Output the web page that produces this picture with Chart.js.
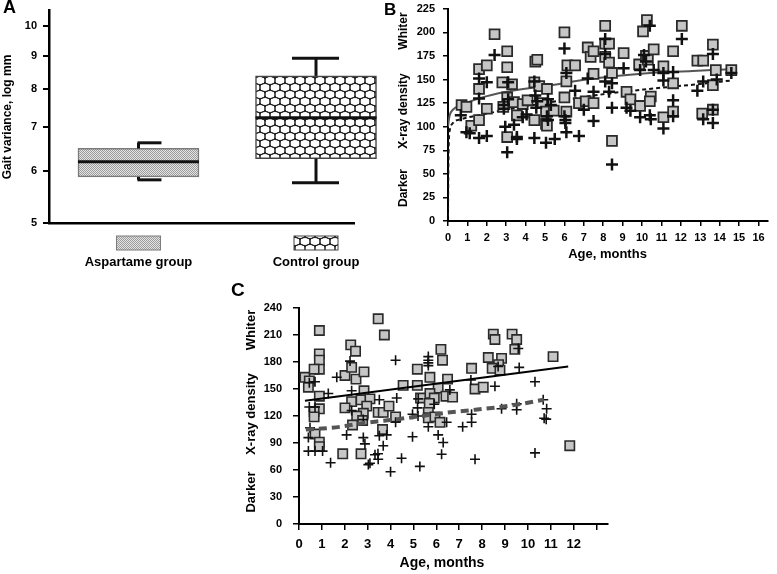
<!DOCTYPE html>
<html>
<head>
<meta charset="utf-8">
<script src="https://cdn.jsdelivr.net/npm/chart.js@4.4.0/dist/chart.umd.min.js"></script>
<style>
  body { margin: 0; background: #fff; }
  #wrap { position: relative; width: 777px; height: 574px; overflow: hidden; background: #fff; }
  canvas { position: absolute; }
</style>
</head>
<body>
<div id="wrap">
  <canvas id="chartA" width="400" height="290" style="left:0;top:0"></canvas>
  <canvas id="chartB" width="397" height="290" style="left:380px;top:0"></canvas>
  <canvas id="chartC" width="420" height="294" style="left:220px;top:280px"></canvas>
</div>
<script>
// ---- Panel A: gait variance, log mm ----
const groups = ['Aspartame group', 'Control group'];
const whiskerLow = [5.82, 5.76];
const boxLow = [5.88, 6.27];
const medians = [6.2, 7.24];
const boxHigh = [6.5, 8.39];
const whiskerHigh = [6.63, 8.93];
const gaitTicks = [5, 6, 7, 8, 9, 10];

// ---- Panel B: x-ray density vs age ----
const bSquares = [
  [0.7, 123], [0.95, 121], [1.2, 101], [1.6, 107], [1.6, 140], [1.6, 161], [2.0, 165], [2.0, 119],
  [2.4, 198], [2.8, 147], [3.05, 180], [3.05, 163], [3.05, 131], [3.05, 89], [3.3, 145], [2.85, 121],
  [3.4, 126], [3.55, 112], [3.85, 124], [4.1, 128], [4.45, 107], [4.5, 169], [4.6, 171], [4.45, 147],
  [4.7, 143], [5.1, 140], [4.85, 125], [5.05, 116], [5.05, 103], [5.1, 101], [5.45, 117], [6.0, 200],
  [6.1, 148], [6.0, 131], [6.1, 116], [6.15, 165], [6.55, 165], [6.75, 125], [7.1, 127], [7.5, 125],
  [7.2, 184], [7.35, 174], [7.5, 180], [7.5, 156], [8.1, 207], [8.1, 188], [8.3, 188], [8.1, 174],
  [8.3, 168], [8.45, 157], [8.45, 85], [9.05, 178], [9.2, 137], [9.4, 129], [9.85, 166], [9.9, 122],
  [10.05, 201], [10.2, 175], [10.3, 171], [10.25, 213], [10.45, 132], [10.4, 127], [10.6, 182],
  [11.1, 164], [11.1, 110], [11.6, 180], [11.6, 146], [11.6, 116], [12.05, 207], [12.85, 170],
  [13.15, 170], [13.1, 114], [13.65, 187], [13.65, 144], [13.65, 118], [13.8, 160], [14.6, 160]
];
const bCrosses = [
  [0.66, 112], [0.95, 94], [1.12, 93], [1.6, 88], [2.0, 90], [1.6, 151], [1.6, 130], [2.0, 147],
  [2.4, 176], [2.95, 100], [3.05, 73], [3.1, 147], [3.1, 129], [2.88, 123], [2.88, 119], [3.4, 102],
  [3.55, 89], [3.55, 87], [3.85, 110], [4.05, 113], [4.45, 88], [4.5, 133], [4.6, 127], [4.55, 120],
  [5.05, 83], [5.5, 87], [5.1, 111], [5.15, 129], [5.3, 123], [5.15, 107], [6.0, 183], [6.1, 157],
  [6.55, 138], [6.0, 111], [6.05, 107], [6.05, 104], [6.1, 94], [6.75, 90], [7.0, 118], [7.5, 106],
  [7.5, 137], [7.2, 151], [8.1, 193], [8.1, 177], [8.1, 148], [8.3, 137], [8.45, 146], [8.45, 120],
  [8.45, 60], [9.05, 162], [9.2, 120], [9.4, 117], [9.9, 110], [9.9, 160], [10.1, 176], [10.4, 207],
  [12.05, 193], [10.2, 169], [10.6, 160], [11.1, 157], [11.1, 149], [11.6, 158], [11.6, 128],
  [11.6, 111], [11.1, 98], [10.4, 112], [10.45, 108], [12.85, 138], [13.15, 148], [13.15, 108],
  [13.65, 177], [13.65, 104], [13.85, 150], [14.6, 157], [13.65, 118], [4.45, 148]
];
const bSolidFit = [[0, 100], [0.05, 108], [0.1, 113], [0.25, 118], [0.7, 123], [1.6, 130], [3, 137],
  [5, 143], [7.5, 151], [10.1, 156.5], [12.6, 159], [14.6, 161]];
const bDashedFit = [[0, 5], [0.02, 60], [0.05, 88], [0.1, 97], [0.26, 104], [0.7, 108], [1.8, 113],
  [3, 118], [5, 125], [7.5, 133], [10.1, 139.5], [12.6, 144.5], [14.6, 149]];
const bXTicks = [0, 1, 2, 3, 4, 5, 6, 7, 8, 9, 10, 11, 12, 13, 14, 15, 16];
const bYTicks = [0, 25, 50, 75, 100, 125, 150, 175, 200, 225];

// ---- Panel C: x-ray density vs age ----
const cSquares = [
  [0.26, 163], [0.45, 159], [0.41, 152], [0.89, 215], [0.89, 189], [0.89, 182], [0.89, 172], [0.66, 172],
  [0.89, 142], [0.89, 128], [0.66, 125], [0.66, 119], [0.7, 100], [0.89, 91], [0.89, 86], [1.91, 78],
  [2.01, 165], [2.26, 199], [2.47, 192], [2.3, 174], [2.49, 161], [2.84, 169], [2.84, 148], [2.3, 136],
  [2.01, 129], [2.71, 138], [3.1, 139], [2.96, 131], [2.81, 123], [2.52, 120], [2.78, 115], [2.34, 110],
  [3.46, 228], [3.73, 210], [3.46, 124], [3.68, 124], [3.93, 131], [3.65, 105], [2.71, 78], [6.2, 194],
  [6.27, 182], [5.17, 172], [7.54, 173], [7.69, 150], [4.55, 154], [5.17, 154], [5.72, 163], [6.49, 161],
  [6.08, 151], [5.72, 145], [5.91, 140], [6.42, 142], [6.71, 141], [5.31, 140], [5.69, 134], [5.65, 124],
  [5.65, 118], [5.94, 119], [6.16, 113], [4.22, 119], [8.49, 211], [8.56, 205], [9.31, 211], [9.51, 205],
  [9.43, 194], [8.27, 185], [8.85, 184], [8.72, 177], [8.44, 173], [8.78, 171], [11.1, 186], [11.83, 87],
  [8.05, 152]
];
const cCrosses = [
  [0.7, 158], [0.45, 157], [1.65, 163], [1.28, 145], [0.45, 130], [0.7, 130], [0.48, 107], [0.41, 96],
  [0.41, 81], [0.7, 81], [1.03, 81], [1.38, 68], [2.23, 181], [2.3, 148], [2.3, 126], [2.08, 99],
  [2.81, 96], [2.88, 89], [3.1, 67.5], [3.03, 66], [3.32, 77], [3.45, 78], [3.46, 72], [3.51, 138],
  [3.51, 98], [2.81, 116], [3.68, 87], [3.83, 99], [4.0, 58], [4.22, 182], [5.65, 186], [5.65, 182],
  [5.65, 179], [5.65, 176], [4.27, 140], [6.59, 149], [7.51, 160], [5.21, 139], [5.18, 129], [5.91, 133],
  [4.96, 122], [5.2, 120], [4.22, 113], [4.96, 97], [5.65, 108], [6.08, 99], [6.3, 90.5], [6.23, 77.5],
  [4.48, 73], [5.28, 64], [6.45, 113], [7.15, 108], [7.54, 113], [7.54, 122], [7.69, 72], [9.58, 195],
  [9.62, 174], [8.56, 153], [10.31, 158], [8.85, 128], [9.51, 133.5], [9.51, 127], [10.82, 128],
  [10.67, 138], [10.71, 117.5], [10.8, 116.5], [10.31, 79], [8.7, 175]
];
const cSolidFit = [[0.26, 137], [11.76, 175]];
const cDashedFit = [[0.3, 105], [1.0, 106], [1.8, 108], [2.5, 111], [3.4, 114], [4.0, 115.5],
  [5.2, 119.5], [6.4, 123.5], [7.7, 127], [9.1, 131], [10.7, 138]];
const cXTicks = [0, 1, 2, 3, 4, 5, 6, 7, 8, 9, 10, 11, 12, 13];
const cXLabels = ['0', '1', '2', '3', '4', '5', '6', '7', '8', '9', '10', '11', '12', ''];
const cYTicks = [0, 30, 60, 90, 120, 150, 180, 210, 240];

const FONT = '"Liberation Sans", Arial, sans-serif';
Chart.defaults.font.family = FONT;
Chart.defaults.font.weight = 'bold';
Chart.defaults.color = '#000';

const pts = arr => arr.map(([x, y]) => ({ x, y }));

// force the scale box size so the plot area lands where it should
function fixSize(s, size) {
  if (s.isHorizontal()) s.height = size; else s.width = size;
  s.paddingTop = s.paddingBottom = s.paddingLeft = s.paddingRight = 0;
}

function labelsPlugin(items) {
  return {
    id: 'panelLabels',
    afterDraw(chart) {
      const ctx = chart.ctx;
      items.forEach(t => {
        ctx.save();
        ctx.font = 'bold ' + t.size + 'px ' + FONT;
        ctx.fillStyle = '#000';
        ctx.translate(t.x, t.y);
        if (t.rotate) ctx.rotate(-Math.PI / 2);
        ctx.textAlign = t.align || 'center';
        ctx.textBaseline = t.baseline || 'middle';
        ctx.fillText(t.text, 0, 0);
        ctx.restore();
      });
    }
  };
}

function axis(min, max, ticks, labels, fontSize, pad, tickLen, size) {
  return {
    type: 'linear', min, max,
    afterBuildTicks: s => { s.ticks = ticks.map(v => ({ value: v })); },
    afterFit: s => fixSize(s, size),
    grid: { drawOnChartArea: false, tickLength: tickLen, color: '#000', lineWidth: 1.5 },
    border: { color: '#000', width: 2 },
    ticks: {
      padding: pad, autoSkip: false, maxRotation: 0,
      font: { size: fontSize, weight: 'bold' }, color: '#000',
      callback: (v, i) => labels ? labels[i] : v
    }
  };
}

const baseOptions = {
  responsive: false,
  animation: false,
  events: [],
  plugins: { legend: { display: false }, tooltip: { enabled: false } }
};

// ---- patterns for the box plot ----
function dotPattern(ctx) {
  const c = document.createElement('canvas');
  c.width = 2; c.height = 2;
  const g = c.getContext('2d');
  g.fillStyle = '#e4e4e4'; g.fillRect(0, 0, 2, 2);
  g.fillStyle = '#9c9c9c'; g.fillRect(0, 0, 1, 1); g.fillRect(1, 1, 1, 1);
  return ctx.createPattern(c, 'repeat');
}

function meshPattern(ctx) {
  const c = document.createElement('canvas');
  c.width = 10; c.height = 14;
  const g = c.getContext('2d');
  g.fillStyle = '#fff'; g.fillRect(0, 0, 10, 14);
  g.strokeStyle = '#1a1a1a'; g.lineWidth = 1;
  for (let row = -1; row <= 2; row++) {
    for (let col = -1; col <= 1; col++) {
      const cx = col * 10 + (row % 2 ? 0 : 5);
      const cy = row * 7 + 3.5;
      g.beginPath(); g.ellipse(cx, cy, 5.3, 4.0, 0, 0, Math.PI * 2); g.stroke();
    }
  }
  return ctx.createPattern(c, 'repeat');
}

const ctxA = document.getElementById('chartA').getContext('2d');
const fills = [dotPattern(ctxA), meshPattern(ctxA)];
const boxBorders = ['#7a7a7a', '#444'];
const boxWidth = 121;
const capSpan = [[-1, 23], [-24, 23]];

const boxPlugin = {
  id: 'whiskers',
  afterDatasetsDraw(chart) {
    const { ctx, scales: { x, y } } = chart;
    const seg = (x1, y1, x2, y2) => { ctx.beginPath(); ctx.moveTo(x1, y1); ctx.lineTo(x2, y2); ctx.stroke(); };
    ctx.save();
    ctx.strokeStyle = '#111';
    ctx.lineWidth = 3;
    groups.forEach((g, i) => {
      const cx = x.getPixelForValue(i);
      const half = boxWidth / 2;
      seg(cx - half, y.getPixelForValue(medians[i]), cx + half, y.getPixelForValue(medians[i]));
      const top = y.getPixelForValue(whiskerHigh[i]);
      const bot = y.getPixelForValue(whiskerLow[i]);
      seg(cx, y.getPixelForValue(boxHigh[i]), cx, top);
      seg(cx, y.getPixelForValue(boxLow[i]), cx, bot);
      seg(cx + capSpan[i][0], top, cx + capSpan[i][1], top);
      seg(cx + capSpan[i][0], bot, cx + capSpan[i][1], bot);
      // legend swatch under the axis
      ctx.fillStyle = fills[i];
      ctx.fillRect(cx - 22, 236, 44, 14);
      ctx.lineWidth = 1;
      ctx.strokeStyle = boxBorders[i];
      ctx.strokeRect(cx - 22, 236, 44, 14);
      ctx.strokeStyle = '#111';
      ctx.lineWidth = 3;
    });
    ctx.restore();
  }
};

new Chart(ctxA, {
  type: 'bar',
  data: {
    datasets: [{
      data: groups.map((g, i) => ({ x: i, y: [boxLow[i], boxHigh[i]] })),
      backgroundColor: fills,
      borderColor: boxBorders,
      borderWidth: 1.5,
      borderSkipped: false,
      barThickness: boxWidth,
      clip: false
    }]
  },
  options: {
    ...baseOptions,
    layout: { padding: { left: 2, top: 10, right: 46, bottom: 0 } },
    scales: {
      x: {
        type: 'linear', min: -0.504, max: 1.214, offset: false,
        afterBuildTicks: s => { s.ticks = groups.map((g, i) => ({ value: i })); },
        afterFit: s => fixSize(s, 67),
        grid: { display: false, drawTicks: false, offset: false },
        border: { color: '#000', width: 2.5 },
        ticks: { padding: 32, autoSkip: false, maxRotation: 0, font: { size: 13, weight: 'bold' }, callback: (v, i) => groups[i] }
      },
      y: {
        type: 'logarithmic', min: 5, max: 10.58,
        afterBuildTicks: s => { s.ticks = gaitTicks.map(v => ({ value: v })); },
        afterFit: s => fixSize(s, 47),
        grid: { drawOnChartArea: false, tickLength: 6, color: '#000', lineWidth: 2 },
        border: { color: '#000', width: 2.5 },
        ticks: { padding: 6, font: { size: 11, weight: 'bold' }, callback: v => String(v) }
      }
    }
  },
  plugins: [boxPlugin, labelsPlugin([
    { text: 'A', x: 3, y: -1, size: 18, align: 'left', baseline: 'top' },
    { text: 'Gait variance, log mm', x: 8, y: 117, size: 12, rotate: true }
  ])]
});

new Chart(document.getElementById('chartB'), {
  type: 'scatter',
  data: {
    datasets: [
      { data: pts(bCrosses), pointStyle: 'cross', pointRadius: 6, pointBorderWidth: 2.5, pointBorderColor: '#111', order: 0 },
      { data: pts(bSquares), pointStyle: 'rect', pointRadius: 7, pointBackgroundColor: '#c6c6c6',
        pointBorderColor: '#2a2a2a', pointBorderWidth: 1.8, order: 1 },
      { data: pts(bSolidFit), showLine: true, pointRadius: 0, borderColor: '#555', borderWidth: 2,
        cubicInterpolationMode: 'monotone', order: 2 },
      { data: pts(bDashedFit), showLine: true, pointRadius: 0, borderColor: '#111', borderWidth: 2,
        borderDash: [4, 3], cubicInterpolationMode: 'monotone', order: 3 }
    ]
  },
  options: {
    ...baseOptions,
    layout: { padding: { left: 0, top: 7, right: 7, bottom: 0 } },
    scales: {
      x: axis(0, 16.5, bXTicks, null, 11, 5, 5, 69),
      y: axis(0, 225, bYTicks, null, 11, 8, 5, 68)
    }
  },
  plugins: [labelsPlugin([
    { text: 'B', x: 4, y: 2, size: 17, align: 'left', baseline: 'top' },
    { text: 'Whiter', x: 24, y: 31, size: 12, rotate: true },
    { text: 'X-ray density', x: 24, y: 111, size: 12, rotate: true },
    { text: 'Darker', x: 24, y: 188, size: 12, rotate: true },
    { text: 'Age, months', x: 227.5, y: 254, size: 13 }
  ])]
});

new Chart(document.getElementById('chartC'), {
  type: 'scatter',
  data: {
    datasets: [
      { data: pts(cSolidFit), showLine: true, pointRadius: 0, borderColor: '#000', borderWidth: 2, order: 0 },
      { data: pts(cDashedFit), showLine: true, pointRadius: 0, borderColor: '#555', borderWidth: 4,
        borderDash: [8, 5], cubicInterpolationMode: 'monotone', order: 1 },
      { data: pts(cCrosses), pointStyle: 'cross', pointRadius: 5, pointBorderWidth: 1.6, pointBorderColor: '#111', order: 2 },
      { data: pts(cSquares), pointStyle: 'rect', pointRadius: 6.6, pointBackgroundColor: '#c6c6c6',
        pointBorderColor: '#2a2a2a', pointBorderWidth: 1.6, order: 3 }
    ]
  },
  options: {
    ...baseOptions,
    layout: { padding: { left: 0, top: 28, right: 32, bottom: 0 } },
    scales: {
      x: axis(0, 13.5, cXTicks, cXLabels, 13, 7, 6, 50),
      y: axis(0, 240, cYTicks, null, 11, 11, 6, 79)
    }
  },
  plugins: [labelsPlugin([
    { text: 'C', x: 11, y: 1, size: 19, align: 'left', baseline: 'top' },
    { text: 'Whiter', x: 31, y: 50, size: 13, rotate: true },
    { text: 'X-ray density', x: 31, y: 134, size: 13, rotate: true },
    { text: 'Darker', x: 31, y: 212, size: 13, rotate: true },
    { text: 'Age, months', x: 222, y: 283, size: 14 }
  ])]
});
</script>
</body>
</html>
